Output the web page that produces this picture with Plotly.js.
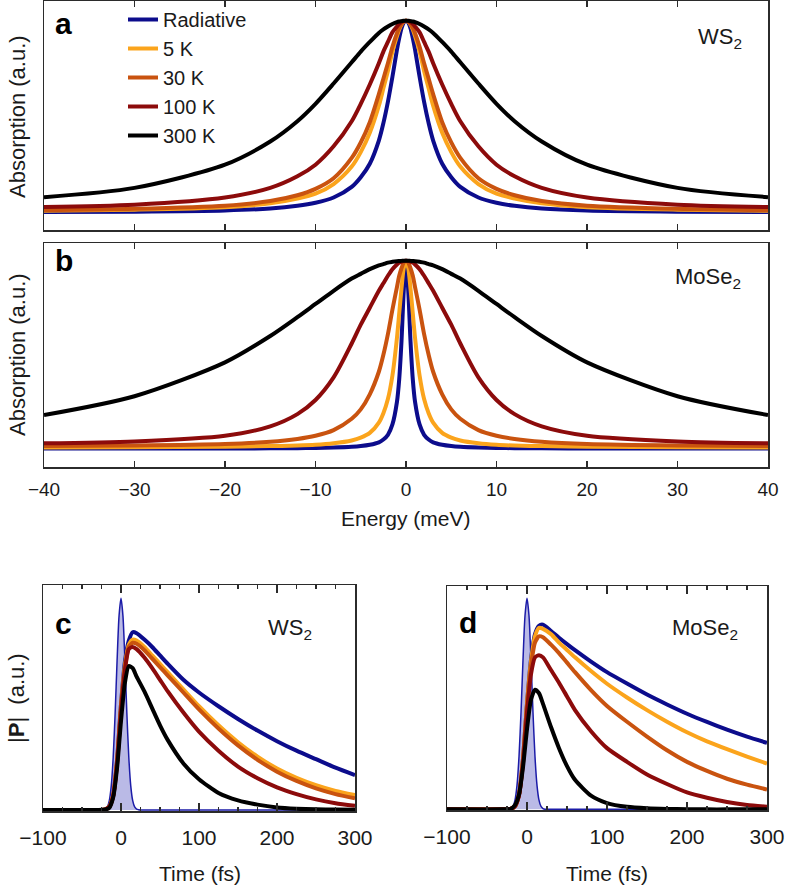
<!DOCTYPE html>
<html>
<head>
<meta charset="utf-8">
<script src="https://cdn.plot.ly/plotly-3.0.1.min.js"></script>
<style>
  html, body { margin: 0; padding: 0; background: #fff; }
  #chart { width: 788px; height: 888px; }
</style>
</head>
<body>
<div id="chart"></div>
<script>
// energy grid (meV) for panels a and b
let energy = [-40,-30,-20,-15,-12,-10,-8,-6,-5,-4,-3,-2.5,-2,-1.5,-1,-0.75,-0.5,-0.25,0,0.25,0.5,0.75,1,1.5,2,2.5,3,4,5,6,8,10,12,15,20,30,40];

// a: WS2 absorption
let ws2Rad   = [0.01,0.012,0.018,0.028,0.042,0.058,0.085,0.14,0.19,0.26,0.38,0.47,0.58,0.71,0.85,0.91,0.96,0.99,1,0.99,0.96,0.91,0.85,0.71,0.58,0.47,0.38,0.26,0.19,0.14,0.085,0.058,0.042,0.028,0.018,0.012,0.01];
let ws2K5    = [0.016,0.022,0.035,0.055,0.08,0.105,0.155,0.245,0.32,0.42,0.56,0.65,0.74,0.84,0.92,0.955,0.98,0.995,1,0.995,0.98,0.955,0.92,0.84,0.74,0.65,0.56,0.42,0.32,0.245,0.155,0.105,0.08,0.055,0.035,0.022,0.016];
let ws2K30   = [0.02,0.027,0.043,0.067,0.097,0.13,0.185,0.29,0.37,0.475,0.62,0.7,0.78,0.865,0.935,0.963,0.983,0.996,1,0.996,0.983,0.963,0.935,0.865,0.78,0.7,0.62,0.475,0.37,0.29,0.185,0.13,0.097,0.067,0.043,0.027,0.02];
let ws2K100  = [0.036,0.048,0.085,0.135,0.195,0.255,0.35,0.48,0.57,0.67,0.78,0.84,0.89,0.94,0.97,0.984,0.993,0.998,1,0.998,0.993,0.984,0.97,0.94,0.89,0.84,0.78,0.67,0.57,0.48,0.35,0.255,0.195,0.135,0.085,0.048,0.036];
let ws2K300  = [0.087,0.135,0.255,0.375,0.48,0.57,0.675,0.785,0.84,0.89,0.937,0.955,0.97,0.983,0.993,0.996,0.998,1,1,1,0.998,0.996,0.993,0.983,0.97,0.955,0.937,0.89,0.84,0.785,0.675,0.57,0.48,0.375,0.255,0.135,0.087];

// b: MoSe2 absorption
let moRad    = [0.002,0.002,0.002,0.003,0.004,0.005,0.007,0.011,0.015,0.022,0.035,0.05,0.075,0.13,0.25,0.37,0.57,0.84,1,0.84,0.57,0.37,0.25,0.13,0.075,0.05,0.035,0.022,0.015,0.011,0.007,0.005,0.004,0.003,0.002,0.002,0.002];
let moK5     = [0.008,0.009,0.012,0.015,0.018,0.022,0.03,0.045,0.06,0.085,0.14,0.19,0.265,0.39,0.59,0.72,0.85,0.96,1,0.96,0.85,0.72,0.59,0.39,0.265,0.19,0.14,0.085,0.06,0.045,0.03,0.022,0.018,0.015,0.012,0.009,0.008];
let moK30    = [0.015,0.018,0.026,0.038,0.053,0.07,0.1,0.16,0.21,0.29,0.41,0.5,0.61,0.74,0.86,0.92,0.96,0.99,1,0.99,0.96,0.92,0.86,0.74,0.61,0.5,0.41,0.29,0.21,0.16,0.1,0.07,0.053,0.038,0.026,0.018,0.015];
let moK100   = [0.03,0.04,0.07,0.12,0.185,0.26,0.38,0.56,0.66,0.75,0.84,0.88,0.92,0.955,0.98,0.99,0.995,0.999,1,0.999,0.995,0.99,0.98,0.955,0.92,0.88,0.84,0.75,0.66,0.56,0.38,0.26,0.185,0.12,0.07,0.04,0.03];
let moK300   = [0.18,0.28,0.46,0.6,0.7,0.77,0.84,0.905,0.93,0.955,0.975,0.982,0.99,0.994,0.997,0.998,0.999,1,1,1,0.999,0.998,0.997,0.994,0.99,0.982,0.975,0.955,0.93,0.905,0.84,0.77,0.7,0.6,0.46,0.28,0.18];

// time grid (fs) for panels c and d
let time = [-100,-30,-20,-15,-10,-5,0,5,10,15,20,30,40,50,60,80,100,125,150,175,200,225,250,275,300];

// c: WS2 |P|
let pWs2Rad  = [0,0,0.003,0.015,0.07,0.24,0.5,0.7,0.8,0.84,0.835,0.805,0.77,0.73,0.69,0.615,0.555,0.49,0.43,0.375,0.325,0.28,0.24,0.2,0.165];
let pWs2K5   = [0,0,0.003,0.015,0.07,0.23,0.49,0.68,0.78,0.805,0.8,0.77,0.73,0.69,0.65,0.57,0.49,0.4,0.32,0.252,0.196,0.152,0.117,0.09,0.07];
let pWs2K30  = [0,0,0.003,0.015,0.07,0.23,0.48,0.67,0.77,0.79,0.785,0.755,0.715,0.675,0.635,0.555,0.475,0.385,0.305,0.237,0.181,0.137,0.102,0.075,0.055];
let pWs2K100 = [0,0,0.003,0.015,0.065,0.22,0.47,0.66,0.76,0.77,0.76,0.72,0.67,0.615,0.56,0.46,0.37,0.28,0.205,0.15,0.107,0.075,0.05,0.032,0.02];
let pWs2K300 = [0,0,0.002,0.01,0.06,0.2,0.42,0.6,0.68,0.67,0.63,0.56,0.48,0.4,0.33,0.22,0.145,0.08,0.045,0.025,0.012,0.006,0.003,0.002,0.001];

// d: MoSe2 |P|
let pMoRad   = [0,0,0.003,0.015,0.07,0.24,0.5,0.71,0.83,0.87,0.875,0.845,0.813,0.783,0.754,0.7,0.65,0.596,0.544,0.497,0.453,0.414,0.378,0.345,0.315];
let pMoK5    = [0,0,0.003,0.015,0.07,0.24,0.5,0.7,0.82,0.86,0.855,0.83,0.79,0.755,0.72,0.655,0.595,0.53,0.47,0.415,0.365,0.322,0.285,0.25,0.217];
let pMoK30   = [0,0,0.003,0.015,0.07,0.23,0.49,0.68,0.79,0.82,0.815,0.78,0.74,0.695,0.65,0.565,0.49,0.415,0.345,0.28,0.225,0.182,0.145,0.117,0.094];
let pMoK100  = [0,0,0.003,0.015,0.065,0.22,0.46,0.64,0.72,0.73,0.72,0.66,0.6,0.535,0.47,0.37,0.29,0.225,0.165,0.12,0.08,0.055,0.035,0.021,0.012];
let pMoK300  = [0,0,0.003,0.02,0.07,0.2,0.38,0.52,0.567,0.55,0.5,0.39,0.29,0.205,0.14,0.065,0.03,0.012,0.005,0.002,0.001,0,0,0,0];

// exciting pulse (shaded)
let pulseTime = [-100,-25,-22.5,-20,-17.5,-15,-12.5,-10,-7.5,-5,-2.5,0,2.5,5,7.5,10,12.5,15,17.5,20,22.5,25,300];
let pulse     = [0,0,0.001,0.004,0.014,0.044,0.114,0.249,0.458,0.707,0.917,1,0.917,0.707,0.458,0.249,0.114,0.044,0.014,0.004,0.001,0,0];

let names  = ["Radiative", "5 K", "30 K", "100 K", "300 K"];
let colors = ["#0c0c8c", "#fba41c", "#c9530f", "#8c0b0b", "#000000"];

let absA = [ws2Rad, ws2K5, ws2K30, ws2K100, ws2K300];
let absB = [moRad, moK5, moK30, moK100, moK300];
let polC = [pWs2Rad, pWs2K5, pWs2K30, pWs2K100, pWs2K300];
let polD = [pMoRad, pMoK5, pMoK30, pMoK100, pMoK300];

let traces = [];

// panel a (with legend)
absA.forEach((y, i) => {
  traces.push({
    x: energy, y: y, type: "scatter", mode: "lines", name: names[i],
    line: {color: colors[i], width: 4, shape: "spline", smoothing: 0.8},
    xaxis: "x", yaxis: "y", hoverinfo: "skip"
  });
});
// panel b
absB.forEach((y, i) => {
  traces.push({
    x: energy, y: y, type: "scatter", mode: "lines", name: names[i], showlegend: false,
    line: {color: colors[i], width: 4, shape: "spline", smoothing: 0.8},
    xaxis: "x2", yaxis: "y2", hoverinfo: "skip"
  });
});
// panels c and d: pulse first, then the polarisations
[["x3", "y3", polC], ["x4", "y4", polD]].forEach(p => {
  traces.push({
    x: pulseTime, y: pulse, type: "scatter", mode: "lines", showlegend: false,
    fill: "tozeroy", fillcolor: "rgba(130,130,210,0.55)",
    line: {color: "#1c1ca8", width: 1.5, shape: "spline", smoothing: 0.7},
    xaxis: p[0], yaxis: p[1], hoverinfo: "skip"
  });
  p[2].forEach((y, i) => {
    traces.push({
      x: time, y: y, type: "scatter", mode: "lines", name: names[i], showlegend: false,
      line: {color: colors[i], width: 4, shape: "spline", smoothing: 0.6},
      xaxis: p[0], yaxis: p[1], hoverinfo: "skip"
    });
  });
});

let W = 788, H = 888;
let px = v => v / W;
let py = v => 1 - v / H;

let axisLine = {showline: true, linecolor: "#2b2b2b", linewidth: 1.5, showgrid: false, zeroline: false};
let fontTick = {family: "Liberation Sans, Arial, sans-serif", size: 19, color: "#1a1a1a"};

let energyAxis = labels => Object.assign({}, axisLine, {
  domain: [px(44), px(768)], range: [-40, 40], dtick: 10, tick0: 0,
  ticks: "inside", ticklen: 6, tickwidth: 1.5, tickcolor: "#2b2b2b", mirror: "ticks",
  showticklabels: labels, tickfont: fontTick, ticklabelstandoff: 5
});
let timeAxis = (x0, x1) => Object.assign({}, axisLine, {
  domain: [px(x0), px(x1)], range: [-100, 300], dtick: 100, tick0: 0,
  ticks: "inside", ticklen: 8, tickwidth: 1.5, tickcolor: "#2b2b2b", mirror: "ticks",
  minor: {dtick: 25, ticks: "inside", ticklen: 4, tickwidth: 1.2, tickcolor: "#2b2b2b"},
  tickfont: {family: "Liberation Sans, Arial, sans-serif", size: 21, color: "#1a1a1a"},
  ticklabelstandoff: 7
});
let plainY = (y0, y1, r) => Object.assign({}, axisLine, {
  domain: [py(y1), py(y0)], range: r, mirror: true, ticks: "", showticklabels: false
});

let labelFont = {family: "Liberation Sans, Arial, sans-serif", size: 21, color: "#1a1a1a"};
let yLabelFont = {family: "Liberation Sans, Arial, sans-serif", size: 22, color: "#1a1a1a"};
let letterFont = {family: "Liberation Sans, Arial, sans-serif", size: 30, color: "#000"};
let matFont = {family: "Liberation Sans, Arial, sans-serif", size: 22, color: "#1a1a1a"};

let note = (text, x, y, font, angle) => ({
  text: text, xref: "paper", yref: "paper", x: px(x), y: py(y),
  xanchor: "center", yanchor: "middle", showarrow: false, font: font, textangle: angle || 0
});

let layout = {
  width: W, height: H,
  margin: {l: 0, r: 0, t: 0, b: 0},
  paper_bgcolor: "#fff", plot_bgcolor: "#fff",
  font: {family: "Liberation Sans, Arial, sans-serif", color: "#1a1a1a"},
  showlegend: true,
  legend: {
    x: px(123), y: py(0), xanchor: "left", yanchor: "top",
    bgcolor: "rgba(0,0,0,0)", borderwidth: 0,
    font: {family: "Liberation Sans, Arial, sans-serif", size: 20, color: "#1a1a1a"},
    tracegroupgap: 0
  },
  xaxis: Object.assign(energyAxis(false), {anchor: "y"}),
  yaxis: Object.assign(plainY(1, 230, [-0.083, 1.102]), {anchor: "x"}),
  xaxis2: Object.assign(energyAxis(true), {anchor: "y2"}),
  yaxis2: Object.assign(plainY(243, 467, [-0.096, 1.094]), {anchor: "x2"}),
  xaxis3: Object.assign(timeAxis(43, 355), {anchor: "y3"}),
  yaxis3: Object.assign(plainY(585, 811, [-0.005, 1.063]), {anchor: "x3"}),
  xaxis4: Object.assign(timeAxis(447, 767), {anchor: "y4"}),
  yaxis4: Object.assign(plainY(586, 810, [-0.003, 1.058]), {anchor: "x4"}),
  annotations: [
    note("<b>a</b>", 64, 23, letterFont),
    note("<b>b</b>", 64, 261, letterFont),
    note("<b>c</b>", 63, 623, letterFont),
    note("<b>d</b>", 468, 622, letterFont),
    note("WS<sub>2</sub>", 720, 38, matFont),
    note("MoSe<sub>2</sub>", 708, 278, matFont),
    note("WS<sub>2</sub>", 290, 629, matFont),
    note("MoSe<sub>2</sub>", 705, 629, matFont),
    note("Absorption (a.u.)", 17, 117, yLabelFont, -90),
    note("Absorption (a.u.)", 17, 355, yLabelFont, -90),
    note("|<b>P</b>|  (a.u.)", 16, 698, yLabelFont, -90),
    note("Energy (meV)", 406, 518, labelFont),
    note("Time (fs)", 200, 873, labelFont),
    note("Time (fs)", 607, 873, labelFont)
  ]
};

Plotly.newPlot("chart", traces, layout, {displayModeBar: false, staticPlot: true});
</script>
</body>
</html>
